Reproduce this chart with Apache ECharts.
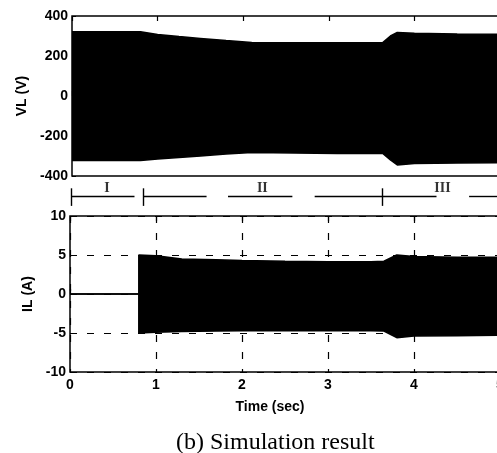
<!DOCTYPE html>
<html>
<head>
<meta charset="utf-8">
<script src="https://cdn.jsdelivr.net/npm/echarts@6/dist/echarts.min.js"></script>
<style>html,body{margin:0;padding:0;background:#fff;}#c{width:497px;height:453px;}</style>
</head>
<body>
<div id="c"></div>
<script>
// ---- data ----
const timeV  = [0, 0.8, 1.0, 1.25, 1.5, 1.8, 2.1, 2.6, 3.1, 3.63, 3.72, 3.8, 4.0, 4.5, 5.0];
const vUpper = [321, 321, 308, 297, 288, 277, 268, 266, 266, 267, 300, 318, 314, 310, 308];
const vLower = [-323, -323, -315, -308, -300, -290, -282, -285, -287, -287, -320, -345, -338, -335, -333];

const timeI  = [0, 0.8, 0.8, 1.0, 1.3, 1.7, 2.0, 2.5, 3.0, 3.5, 3.65, 3.8, 4.0, 4.5, 5.0];
const iUpper = [0, 0, 5.0, 4.9, 4.5, 4.4, 4.3, 4.2, 4.15, 4.15, 4.2, 5.0, 4.8, 4.7, 4.7];
const iLower = [0, 0, -5.0, -4.9, -4.8, -4.75, -4.7, -4.7, -4.7, -4.7, -4.75, -5.6, -5.4, -5.35, -5.3];

const xTicks = [0, 1, 2, 3, 4, 5];
const vTicks = [-400, -200, 0, 200, 400];
const iTicks = [-10, -5, 0, 5, 10];

const regionNames = ['I', 'II', 'III'];
const regionLabelX = [0.42, 2.23, 4.33];
const regionBounds = [0, 0.84, 3.63];
const regionSegStart = [0, 0.84, 1.83, 2.84, 4.64];
const regionSegEnd   = [0.74, 1.58, 2.58, 4.26, 5.0];

// ---- chart ----
const zip = (xs, ys) => xs.map((x, i) => [x, ys[i]]);
const tickFont = { color: '#000', fontFamily: 'Liberation Sans', fontWeight: 'bold', fontSize: 14 };
const nameFont = { color: '#000', fontFamily: 'Liberation Sans', fontWeight: 'bold', fontSize: 14 };
const innerTick = { inside: true, length: 5, lineStyle: { color: '#000', width: 1.2 } };

const chart = echarts.init(document.getElementById('c'), null, { renderer: 'canvas' });
const option = {
  animation: false,
  backgroundColor: '#fff',
  title: {
    text: '(b) Simulation result',
    left: 171, top: 426,
    textStyle: { fontFamily: 'Liberation Serif', fontWeight: 'normal', fontSize: 24, color: '#000' }
  },
  grid: [
    { left: 72, right: -3, top: 16, height: 160, show: true, borderColor: '#000', borderWidth: 1.5, outerBoundsMode: 'none' },
    { left: 70, right: -3, top: 216, height: 156, show: true, borderColor: '#000', borderWidth: 1.5, outerBoundsMode: 'none' },
    { left: 71, right: -3, top: 185, height: 22, show: false, outerBoundsMode: 'none' }
  ],
  xAxis: [
    { gridIndex: 0, type: 'value', min: 0, max: 5, interval: 1, position: 'bottom',
      axisLine: { show: false }, axisTick: innerTick,
      axisLabel: { show: false }, splitLine: { show: false } },
    { gridIndex: 0, type: 'value', min: 0, max: 5, interval: 1, position: 'top',
      axisLine: { show: false }, axisTick: innerTick,
      axisLabel: { show: false }, splitLine: { show: false } },
    { gridIndex: 1, type: 'value', min: 0, max: 5, interval: 1, position: 'bottom',
      axisLine: { show: false }, axisTick: innerTick,
      axisLabel: Object.assign({ margin: 6, formatter: v => xTicks.includes(v) ? String(v) : '' }, tickFont),
      name: 'Time (sec)', nameLocation: 'middle', nameGap: 28,
      nameTextStyle: Object.assign({ padding: [0, 30, 0, 0] }, nameFont),
      splitLine: { show: true, lineStyle: { color: '#000', type: [7, 10], width: 1.2 } } },
    { gridIndex: 2, type: 'value', min: 0, max: 5, show: false },
    { gridIndex: 1, type: 'value', min: 0, max: 5, interval: 1, position: 'top',
      axisLine: { show: false }, axisTick: innerTick,
      axisLabel: { show: false }, splitLine: { show: false } }
  ],
  yAxis: [
    { gridIndex: 0, type: 'value', min: -400, max: 400, interval: 200,
      axisLine: { show: false }, axisTick: { inside: true, length: 4, lineStyle: { color: '#000' } },
      axisLabel: Object.assign({ margin: 4, formatter: v => vTicks.includes(v) ? String(v) : '' }, tickFont),
      name: 'VL (V)', nameLocation: 'middle', nameGap: 32,
      nameTextStyle: nameFont,
      splitLine: { show: false } },
    { gridIndex: 1, type: 'value', min: -10, max: 10, interval: 5,
      axisLine: { show: false }, axisTick: { inside: true, length: 4, lineStyle: { color: '#000' } },
      axisLabel: Object.assign({ margin: 4, formatter: v => iTicks.includes(v) ? String(v) : '' }, tickFont),
      name: 'IL (A)', nameLocation: 'middle', nameGap: 24,
      nameTextStyle: nameFont,
      splitLine: { show: true, lineStyle: { color: '#000', type: [7, 10], width: 1.2 } } },
    { gridIndex: 2, type: 'value', min: 0, max: 1, show: false }
  ],
  series: [
    { type: 'line', xAxisIndex: 0, yAxisIndex: 0, data: zip(timeV, vUpper), symbol: 'none',
      lineStyle: { color: '#000', width: 1.5 }, areaStyle: { color: '#000', opacity: 1 }, z: 5 },
    { type: 'line', xAxisIndex: 0, yAxisIndex: 0, data: zip(timeV, vLower), symbol: 'none',
      lineStyle: { color: '#000', width: 1.5 }, areaStyle: { color: '#000', opacity: 1 }, z: 5 },
    { type: 'line', xAxisIndex: 2, yAxisIndex: 1, data: zip(timeI, iUpper), symbol: 'none',
      lineStyle: { color: '#000', width: 1.5 }, areaStyle: { color: '#000', opacity: 1 }, z: 5 },
    { type: 'line', xAxisIndex: 2, yAxisIndex: 1, data: zip(timeI, iLower), symbol: 'none',
      lineStyle: { color: '#000', width: 1.5 }, areaStyle: { color: '#000', opacity: 1 }, z: 5 },
    { type: 'scatter', xAxisIndex: 3, yAxisIndex: 2, symbolSize: 0,
      data: regionNames.map((n, i) => ({ value: [regionLabelX[i], 0.86], name: n })),
      label: { show: true, position: 'inside', formatter: p => p.name,
        color: '#000', fontFamily: 'Liberation Serif', fontWeight: 'bold', fontSize: 14 },
      markLine: {
        silent: true, symbol: 'none', label: { show: false },
        lineStyle: { color: '#000', type: 'solid', width: 1.4 },
        data: regionSegStart.map((s, i) => [{ coord: [s, 0.5] }, { coord: [regionSegEnd[i], 0.5] }])
          .concat(regionBounds.map(b => [{ coord: [b, 0.05] }, { coord: [b, 0.85] }]))
      } }
  ]
};
chart.setOption(option);
</script>
</body>
</html>
